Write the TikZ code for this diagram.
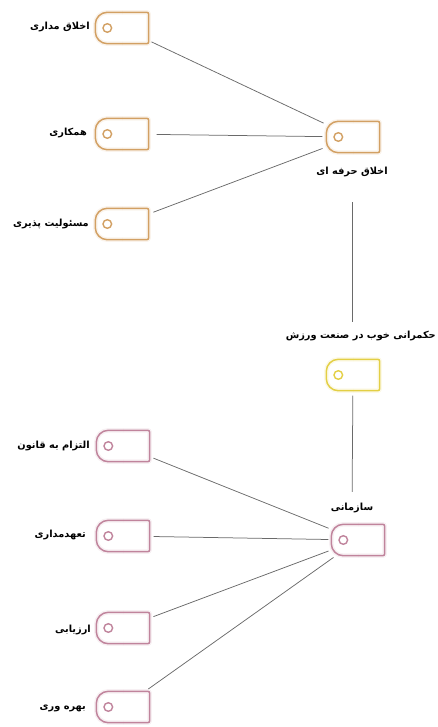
\documentclass[tikz,border=0pt]{standalone}
\usepackage{fontspec}
\TeXXeTstate=1
\newfontfamily\arabicfont[Script=Arabic]{DejaVu Sans}
\definecolor{tagor}{HTML}{D2A063}
\definecolor{tagye}{HTML}{E3CF45}
\definecolor{tagpk}{HTML}{C0849C}
\definecolor{lnk}{HTML}{6A6A6A}
\tikzset{
  tagbox/.style={minimum width=53pt, minimum height=31pt, inner sep=0pt, draw=none},
  lbl/.style={font=\arabicfont\bfseries\fontsize{9.8}{11}\selectfont, inner sep=1pt, text=black},
  link/.style={draw=lnk, line width=0.75pt},
}
\newcommand\tagdraw[2]{%
  \draw[#2, line width=4.5pt, opacity=0.12, rounded corners=2pt] (#1.north) -- (#1.north east) -- (#1.south east) -- (#1.south);
  \draw[#2, line width=4.5pt, opacity=0.12, rounded corners=12pt] (#1.south) -- (#1.south west) -- (#1.north west) -- (#1.north);
  \draw[#2, line width=1.5pt, rounded corners=2pt] (#1.north) -- (#1.north east) -- (#1.south east) -- (#1.south);
  \draw[#2, line width=1.5pt, rounded corners=12pt] (#1.south) -- (#1.south west) -- (#1.north west) -- (#1.north);
  \draw[#2, line width=1.4pt] ([xshift=12pt]#1.west) circle (4.3pt);
}
\begin{document}
\begin{tikzpicture}[x=1pt,y=-1pt]
\useasboundingbox (0,0) rectangle (438,727);
\node[tagbox] (t1) at (122,28) {};
\node[tagbox] (t2) at (122,134) {};
\node[tagbox] (t3) at (122,224) {};
\node[tagbox] (h1) at (353,137) {};
\node[tagbox] (yy) at (353,375) {};
\node[tagbox] (ph) at (358,540) {};
\node[tagbox] (p1) at (123,446) {};
\node[tagbox] (p2) at (123,536) {};
\node[tagbox] (p3) at (123,628) {};
\node[tagbox] (p4) at (123,707) {};
\foreach \n in {t1,t2,t3,h1} {\tagdraw{\n}{tagor}}
\tagdraw{yy}{tagye}
\foreach \n in {ph,p1,p2,p3,p4} {\tagdraw{\n}{tagpk}}
% labels
\node[lbl, anchor=east] (lt1) at (91,27) {\beginR اخلاق مداری\endR};
\node[lbl, anchor=east] (lt2) at (88,133) {\beginR همکاری\endR};
\node[lbl, anchor=east] (lt3) at (90,224) {\beginR مسئولیت پذیری\endR};
\node[lbl] (lh1) at (352,172) {\beginR اخلاق حرفه ای\endR};
\node[lbl, anchor=east] (lyy) at (437,336) {\beginR حکمرانی خوب در صنعت ورزش\endR};
\node[lbl] (lph) at (352,508) {\beginR سازمانی\endR};
\node[lbl, anchor=east] (lp1) at (91,446) {\beginR التزام به قانون\endR};
\node[lbl, anchor=east] (lp2) at (87,535) {\beginR تعهدمداری\endR};
\node[lbl, anchor=east] (lp3) at (92,630) {\beginR ارزیابی\endR};
\node[lbl, anchor=east] (lp4) at (87,708) {\beginR بهره وری\endR};
% connectors
\draw[link, shorten <=3pt, shorten >=3pt] (t1) -- (h1);
\draw[link, shorten <=8pt, shorten >=4pt] (t2) -- (h1);
\draw[link, shorten <=5pt, shorten >=4pt] (t3) -- (h1);
\draw[link, shorten <=24pt, shorten >=20pt] (lh1) -- (lyy.south -| lh1);
\draw[link, shorten <=5pt, shorten >=10pt] (yy) -- (lph);
\foreach \n in {p1,p2,p3,p4} {\draw[link, shorten <=4pt, shorten >=3pt] (\n) -- (ph);}
\end{tikzpicture}
\end{document}
